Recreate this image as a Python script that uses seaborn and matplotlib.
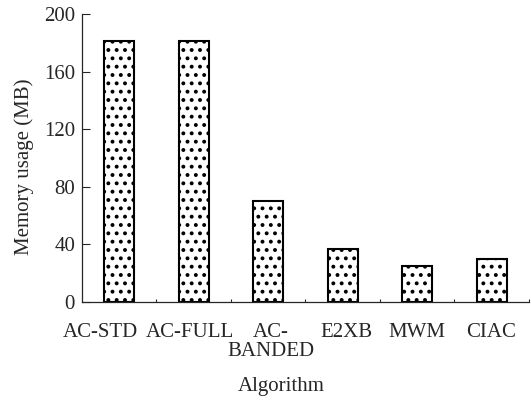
import matplotlib
matplotlib.use("Agg")
import matplotlib.pyplot as plt
import matplotlib.transforms as mtransforms
import seaborn as sns
import pandas as pd

# data
algorithms = ['AC-STD', 'AC-FULL', 'AC-\nBANDED', 'E2XB', 'MWM', 'CIAC']
memory_mb = [181, 181.5, 70, 37, 25, 30]

# horizontal nudge of each tick label (pixels), as in the original layout
label_shift_px = [-19, -4, 3, 4, 0, -1]

sns.set_style("ticks")
plt.rcParams['font.family'] = ['Liberation Serif', 'DejaVu Serif']
plt.rcParams['hatch.linewidth'] = 1.6

df = pd.DataFrame({'Algorithm': algorithms, 'Memory': memory_mb})

fig = plt.figure(figsize=(5.31, 4.03), dpi=100)
ax = fig.add_axes([0.1544, 0.2506, 0.8416, 0.7147])

sns.barplot(data=df, x='Algorithm', y='Memory', ax=ax, color='white',
            edgecolor='black', linewidth=1.5, width=0.4, hatch='..')

ax.set_ylim(0, 200)
ax.set_xlim(-0.5, len(algorithms) - 0.5)
ax.set_yticks([0, 40, 80, 120, 160, 200])
ax.set_xticks(range(len(algorithms)))
ax.set_xticklabels(algorithms, fontsize=15, linespacing=1.0)
ax.tick_params(axis='x', length=0, pad=15)
ax.tick_params(axis='y', labelsize=15, direction='in', length=5.5, width=0.8, pad=5)
ax.set_xticks([i + 0.5 for i in range(len(algorithms))], minor=True)
ax.tick_params(axis='x', which='minor', direction='in', length=2.5, width=0.8)

for lab, dx in zip(ax.get_xticklabels(), label_shift_px):
    lab.set_transform(lab.get_transform() +
                      mtransforms.ScaledTranslation(dx / 100, 0, fig.dpi_scale_trans))

ax.set_xlabel('Algorithm', fontsize=15)
ax.xaxis.set_label_coords(0.446, -0.262, transform=ax.transAxes)
ax.xaxis.label.set_va('top')
ax.set_ylabel('Memory usage (MB)', fontsize=15, labelpad=7)
ax.yaxis.label.set_y(0.469)

sns.despine(ax=ax)
for s in ['left', 'bottom']:
    ax.spines[s].set_linewidth(0.9)

fig.savefig('out.png', dpi=100)
